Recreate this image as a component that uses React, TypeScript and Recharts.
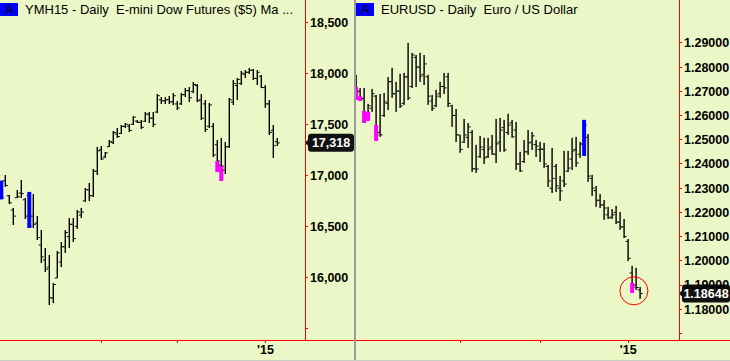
import React from 'react';
import { ComposedChart, Bar, XAxis, YAxis, ReferenceLine, ReferenceDot } from 'recharts';

// YMH15 daily bars, late Sep '14 -> Jan 7 '15
const ymHigh = [
  16947, 17003, 16807, 16680, 16856, 16954, 16778, 16837, 16817, 16601,
  16464, 16288, 16219, 15945, 16258, 16346, 16464, 16582, 16582, 16660,
  16680, 16876, 16925, 17062, 17278, 17287, 17228, 17346, 17434, 17464,
  17493, 17513, 17503, 17581, 17542, 17542, 17620, 17620, 17620, 17797,
  17767, 17767, 17777, 17806, 17728, 17806, 17855, 17865, 17914, 17895,
  17797, 17738, 17709, 17513, 17346, 17366, 17326, 17758, 17934, 17954,
  18022, 18032, 18051, 18042, 18032, 17983, 17885, 17738, 17493, 17366,
];
const ymLow = [
  16765, 16888, 16719, 16513, 16778, 16778, 16572, 16484, 16484, 16366,
  16141, 16052, 15729, 15748, 15993, 16101, 16239, 16288, 16346, 16474,
  16582, 16739, 16748, 16788, 17003, 17150, 17170, 17277, 17307, 17366,
  17405, 17464, 17425, 17493, 17513, 17454, 17522, 17513, 17473, 17610,
  17699, 17699, 17699, 17689, 17640, 17689, 17767, 17718, 17806, 17718,
  17542, 17424, 17464, 17179, 17032, 16944, 17013, 17268, 17689, 17738,
  17885, 17954, 17993, 17934, 17885, 17855, 17660, 17395, 17170, 17287,
];
const ymOpen = [
  16930, 16947, 16800, 16660, 16780, 16826, 16760, 16800, 16600, 16532,
  16317, 16170, 16100, 15797, 15993, 16150, 16300, 16400, 16520, 16500,
  16610, 16750, 16856, 16800, 17040, 17250, 17180, 17280, 17320, 17404,
  17410, 17480, 17482, 17500, 17530, 17520, 17530, 17600, 17560, 17620,
  17740, 17730, 17740, 17720, 17700, 17700, 17790, 17830, 17820, 17880,
  17740, 17700, 17480, 17480, 17300, 17100, 17050, 17280, 17717, 17880,
  17900, 17990, 18010, 18030, 17950, 17970, 17860, 17700, 17440, 17330,
];
const ymClose = [
  16780, 16900, 16730, 16600, 16790, 16820, 16600, 16500, 16520, 16390,
  16200, 16080, 15800, 15930, 16240, 16300, 16440, 16520, 16380, 16640,
  16640, 16860, 16800, 17040, 17240, 17160, 17220, 17330, 17420, 17380,
  17480, 17500, 17440, 17570, 17520, 17470, 17600, 17560, 17500, 17780,
  17730, 17740, 17720, 17780, 17660, 17790, 17830, 17760, 17890, 17730,
  17560, 17450, 17690, 17200, 17140, 17091, 17280, 17740, 17900, 17940,
  18000, 18010, 18030, 17950, 18010, 17860, 17700, 17420, 17290, 17318,
];
const ymPaintIdx = [0, 7, 54, 55];
const ymPaintLo = [16765, 16484, 17032, 16944];
const ymPaintHi = [16947, 16837, 17140, 17091];
const ymPaintColor = ['#0000ff', '#0000ff', '#ff00ff', '#ff00ff'];
const ymTicks = [15500, 16000, 16500, 17000, 17500, 18000, 18500];
const ymTickLabels = ['', '16,000', '16,500', '17,000', '17,500', '18,000', '18,500'];
const ymDateTicks = [25, 44, 66];
const ymDateLabels = ['', '', "'15"];
const ymLast = 17318;
const ymLastLabel = '17,318';

// EURUSD daily bars, late Sep '14 -> Jan 7 '15
const euHigh = [
  1.2768, 1.2713, 1.2714, 1.2648, 1.2710, 1.2685, 1.2689, 1.2693, 1.2759, 1.2797,
  1.2739, 1.2772, 1.2776, 1.2900, 1.2859, 1.2850, 1.2859, 1.2850, 1.2768, 1.2685,
  1.2706, 1.2739, 1.2776, 1.2776, 1.2644, 1.2627, 1.2520, 1.2586, 1.2569, 1.2540,
  1.2479, 1.2516, 1.2508, 1.2508, 1.2520, 1.2586, 1.2590, 1.2582, 1.2607, 1.2582,
  1.2573, 1.2450, 1.2499, 1.2540, 1.2532, 1.2499, 1.2491, 1.2487, 1.2396, 1.2466,
  1.2400, 1.2351, 1.2454, 1.2454, 1.2508, 1.2512, 1.2491, 1.2582, 1.2524, 1.2355,
  1.2309, 1.2276, 1.2251, 1.2223, 1.2214, 1.2227, 1.2202, 1.2173, 1.2090, 1.1979,
  1.1971, 1.1892,
];
const euLow = [
  1.2664, 1.2660, 1.2569, 1.2578, 1.2615, 1.2495, 1.2512, 1.2594, 1.2623, 1.2673,
  1.2615, 1.2631, 1.2644, 1.2664, 1.2714, 1.2718, 1.2739, 1.2726, 1.2644, 1.2619,
  1.2635, 1.2673, 1.2689, 1.2635, 1.2553, 1.2491, 1.2446, 1.2487, 1.2466, 1.2367,
  1.2363, 1.2425, 1.2400, 1.2425, 1.2438, 1.2404, 1.2450, 1.2450, 1.2520, 1.2508,
  1.2375, 1.2367, 1.2404, 1.2437, 1.2458, 1.2429, 1.2408, 1.2384, 1.2305, 1.2280,
  1.2284, 1.2247, 1.2305, 1.2367, 1.2375, 1.2388, 1.2425, 1.2433, 1.2326, 1.2268,
  1.2223, 1.2218, 1.2169, 1.2173, 1.2173, 1.2152, 1.2128, 1.2094, 1.1999, 1.1867,
  1.1880, 1.1843,
];
const euOpen = [
  1.2750, 1.2700, 1.2670, 1.2590, 1.2630, 1.2680, 1.2530, 1.2600, 1.2650, 1.2740,
  1.2690, 1.2700, 1.2650, 1.2760, 1.2720, 1.2840, 1.2800, 1.2770, 1.2760, 1.2660,
  1.2640, 1.2690, 1.2720, 1.2760, 1.2640, 1.2600, 1.2520, 1.2490, 1.2510, 1.2530,
  1.2380, 1.2430, 1.2460, 1.2430, 1.2470, 1.2440, 1.2490, 1.2550, 1.2530, 1.2570,
  1.2540, 1.2400, 1.2410, 1.2450, 1.2490, 1.2480, 1.2460, 1.2460, 1.2390, 1.2300,
  1.2390, 1.2300, 1.2330, 1.2370, 1.2420, 1.2460, 1.2440, 1.2480, 1.2510, 1.2340,
  1.2290, 1.2250, 1.2230, 1.2190, 1.2180, 1.2200, 1.2160, 1.2140, 1.2080, 1.1950,
  1.1900, 1.1880,
];
const euClose = [
  1.2700, 1.2668, 1.2585, 1.2640, 1.2690, 1.2520, 1.2520, 1.2656, 1.2740, 1.2690,
  1.2702, 1.2640, 1.2759, 1.2673, 1.2850, 1.2800, 1.2763, 1.2813, 1.2680, 1.2630,
  1.2680, 1.2720, 1.2714, 1.2650, 1.2600, 1.2520, 1.2460, 1.2520, 1.2553, 1.2380,
  1.2379, 1.2470, 1.2425, 1.2462, 1.2441, 1.2483, 1.2540, 1.2458, 1.2561, 1.2512,
  1.2400, 1.2371, 1.2450, 1.2487, 1.2516, 1.2474, 1.2462, 1.2400, 1.2330, 1.2340,
  1.2310, 1.2289, 1.2317, 1.2383, 1.2454, 1.2404, 1.2483, 1.2560, 1.2350, 1.2300,
  1.2250, 1.2231, 1.2218, 1.2177, 1.2190, 1.2160, 1.2140, 1.2100, 1.2010, 1.1890,
  1.1890, 1.18648,
];
const euPaintIdx = [0, 1, 2, 3, 5, 57, 69];
const euPaintLo = [1.2664, 1.2660, 1.2569, 1.2578, 1.2495, 1.2433, 1.1867];
const euPaintHi = [1.2718, 1.2680, 1.2619, 1.2615, 1.2561, 1.2582, 1.1909];
const euPaintColor = ['#ff00ff', '#ff00ff', '#ff00ff', '#ff00ff', '#ff00ff', '#0000ff', '#ff00ff'];
const euTicks = [1.17, 1.18, 1.19, 1.2, 1.21, 1.22, 1.23, 1.24, 1.25, 1.26, 1.27, 1.28, 1.29];
const euTickLabels = ['', '1.18000', '1.19000', '1.20000', '1.21000', '1.22000', '1.23000',
  '1.24000', '1.25000', '1.26000', '1.27000', '1.28000', '1.29000'];
const euDateTicks = [26, 46, 68];
const euDateLabels = ['', '', "'15"];
const euLast = 1.18648;
const euLastLabel = '1.18648';
const euCircle = { i: 69.4, price: 1.1876 };

const BG = '#ebf7c6';
const RED = '#ff0000';
const FONT = '"Liberation Sans", Arial, sans-serif';

function buildRows(high: number[], low: number[], open: number[], close: number[],
  pIdx: number[], pLo: number[], pHi: number[], pColor: string[]) {
  return high.map((h, i) => {
    const p = pIdx.indexOf(i);
    return {
      i,
      range: [low[i], h],
      high: h,
      low: low[i],
      open: open[i],
      close: close[i],
      paintLo: p >= 0 ? pLo[p] : null,
      paintHi: p >= 0 ? pHi[p] : null,
      paintColor: p >= 0 ? pColor[p] : null,
    };
  });
}

const ymRows = buildRows(ymHigh, ymLow, ymOpen, ymClose, ymPaintIdx, ymPaintLo, ymPaintHi, ymPaintColor);
const euRows = buildRows(euHigh, euLow, euOpen, euClose, euPaintIdx, euPaintLo, euPaintHi, euPaintColor);

function OhlcShape(props: any) {
  const { x, y, width, height, payload } = props;
  if (x == null || !payload) return null;
  const top = Math.min(y, y + height);
  const h = Math.abs(height);
  const span = payload.high - payload.low || 1;
  const py = (v: number) => top + ((payload.high - v) / span) * h;
  const cx = x + width / 2;
  return (
    <g>
      <rect x={cx - 0.7} y={top} width={1.4} height={Math.max(h, 1)} fill="#000" />
      <rect x={cx - 2.5} y={py(payload.open) - 0.5} width={2} height={1} fill="#000" />
      <rect x={cx + 0.5} y={py(payload.close) - 0.5} width={2} height={1} fill="#000" />
      {payload.paintColor && (
        <rect x={cx - 2} y={py(payload.paintHi)} width={4}
          height={py(payload.paintLo) - py(payload.paintHi)} fill={payload.paintColor} />
      )}
    </g>
  );
}

function PriceTag(props: any) {
  const { viewBox, text, w } = props;
  if (!viewBox) return null;
  const x0 = viewBox.x + viewBox.width;
  const y0 = viewBox.y;
  return (
    <g>
      <polygon points={`${x0},${y0} ${x0 + 5},${y0 - 5} ${x0 + 5},${y0 + 5}`} fill="#111" />
      <rect x={x0 + 3} y={y0 - 9} width={w} height={18} rx={3} fill="#111" />
      <text x={x0 + 3 + w / 2} y={y0} dy="0.36em" textAnchor="middle" fill="#fff"
        fontSize={12.5} fontWeight="bold" fontFamily={FONT}>{text}</text>
    </g>
  );
}

function Panel(props: any) {
  const { rows, width, axisW, xDomain, yDomain, yTicks, yLabels, dateTicks, dateLabels, last, lastLabel, tagW, children } = props;
  return (
    <ComposedChart width={width} height={361} data={rows} margin={{ top: 0, right: 0, bottom: 0, left: 0 }}>
      <XAxis dataKey="i" type="number" domain={xDomain} allowDataOverflow ticks={dateTicks} interval={0}
        tickFormatter={(v: number) => dateLabels[dateTicks.indexOf(v)] ?? ''}
        height={21} tickSize={3} tickMargin={2} axisLine={false}
        tickLine={{ stroke: RED, shapeRendering: 'crispEdges' }}
        tick={{ fill: '#000', fontSize: 12.5, fontWeight: 'bold', fontFamily: FONT }} />
      <YAxis orientation="right" type="number" domain={yDomain} allowDataOverflow ticks={yTicks} interval={0}
        tickFormatter={(v: number) => yLabels[yTicks.indexOf(v)] ?? ''}
        width={axisW} tickSize={3} tickMargin={2}
        axisLine={{ stroke: RED, shapeRendering: 'crispEdges' }}
        tickLine={{ stroke: RED, shapeRendering: 'crispEdges' }}
        tick={{ fill: '#000', fontSize: 12.5, fontWeight: 'bold', fontFamily: FONT, textAnchor: 'start' }} />
      <Bar dataKey="range" barSize={4} shape={<OhlcShape />} isAnimationActive={false} />
      {children}
      <ReferenceLine y={last} stroke="none" strokeWidth={0}
        label={<PriceTag text={lastLabel} w={tagW} />} />
    </ComposedChart>
  );
}

function Title({ left, text }: { left: number; text: string }) {
  return (
    <div style={{ position: 'absolute', left, top: 1, height: 16, display: 'flex', alignItems: 'center', fontFamily: FONT, fontSize: 13, whiteSpace: 'pre', color: '#000' }}>
      <span style={{ background: '#0000ff', width: 18, height: 13, lineHeight: '13px', textAlign: 'center', color: '#000', marginRight: 7 }}>A</span>
      <span>{text}</span>
    </div>
  );
}

export default function App() {
  return (
    <div style={{ position: 'absolute', left: 0, top: 0, width: 730, height: 361, background: BG, overflow: 'hidden' }}>
      <div style={{ position: 'absolute', left: 0, top: 0 }}>
        <Panel rows={ymRows} width={354} axisW={49} xDomain={[-0.375, 75.875]} yDomain={[15386, 18718]}
          yTicks={ymTicks} yLabels={ymTickLabels} dateTicks={ymDateTicks} dateLabels={ymDateLabels}
          last={ymLast} lastLabel={ymLastLabel} tagW={46} />
      </div>
      <div style={{ position: 'absolute', left: 356, top: 0 }}>
        <Panel rows={euRows} width={374} axisW={51} xDomain={[-0.075, 80.675]} yDomain={[1.1673, 1.3077]}
          yTicks={euTicks} yLabels={euTickLabels} dateTicks={euDateTicks} dateLabels={euDateLabels}
          last={euLast} lastLabel={euLastLabel} tagW={48}>
          <ReferenceDot x={euCircle.i} y={euCircle.price} r={14} fill="none" stroke={RED} strokeWidth={1} ifOverflow="visible" />
        </Panel>
      </div>
      <div style={{ position: 'absolute', left: 0, top: 340, width: 730, height: 1, background: RED }} />
      <div style={{ position: 'absolute', left: 354, top: 0, width: 2, height: 361, background: '#9a9a9a' }} />
      <div style={{ position: 'absolute', left: 0, top: 360, width: 730, height: 1, background: '#c9cfc0' }} />
      <Title left={0} text={'YMH15 - Daily  E-mini Dow Futures ($5) Ma ...'} />
      <Title left={356} text={'EURUSD - Daily  Euro / US Dollar'} />
    </div>
  );
}
